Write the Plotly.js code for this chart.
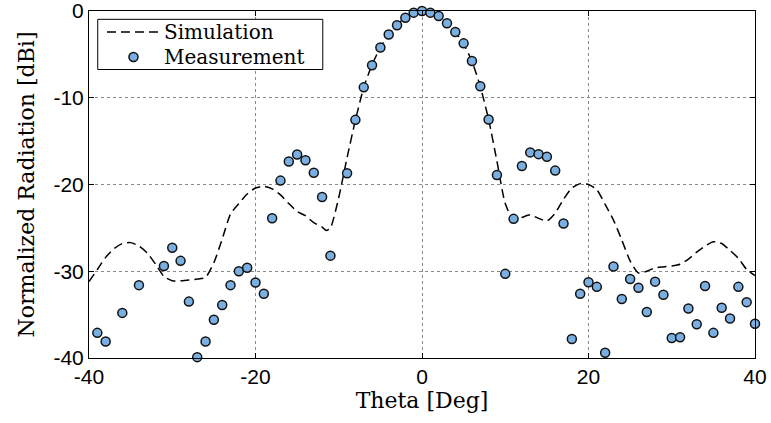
<!DOCTYPE html>
<html>
<head>
<meta charset="utf-8">
<script src="https://cdn.plot.ly/plotly-3.0.1.min.js"></script>
<style>html,body{margin:0;padding:0;background:#fff;}#chart{width:771px;height:423px;}</style>
</head>
<body>
<div id="chart"></div>
<script>
// Simulation (dashed line)
const simTheta = [-40,-39,-38,-37,-36,-35,-34,-33,-32,-31,-30,-29,-28,-27,-26,-25,-24,-23,-22,-21,-20,-19,-18,-17,-16,-15,-14,-13,-12,-11.5,-11,-10,-9,-8,-7,-6,-5,-4,-3,-2,-1,0,1,2,3,4,5,6,7,8,9,10,11,12,13,14,15,16,17,18,19,20,21,22,23,24,25,26,27,28,29,30,31,32,33,34,35,36,37,38,39,40];
const simDb = [-31.2,-29.8,-28.4,-27.4,-26.8,-26.7,-27.1,-27.9,-29.2,-30.6,-31.1,-31.1,-31.0,-30.9,-30.7,-29.0,-26.3,-23.4,-22.2,-21.1,-20.4,-20.2,-20.5,-21.2,-22.2,-23.1,-23.6,-24.4,-24.9,-25.3,-25.0,-21.5,-16.9,-12.6,-8.8,-6.2,-4.2,-2.7,-1.6,-0.75,-0.2,0,-0.2,-0.6,-1.4,-2.4,-3.8,-5.8,-8.7,-12.5,-17.3,-22.2,-24.1,-23.8,-23.5,-23.9,-24.2,-23.3,-21.7,-20.4,-19.9,-20.0,-20.6,-22.3,-24.1,-26.4,-28.8,-30.2,-30.0,-29.6,-29.5,-29.4,-29.2,-28.6,-27.8,-27.1,-26.6,-26.8,-27.6,-28.5,-29.8,-30.5];

// Measurement (circles)
const measTheta = [-39,-38,-36,-34,-31,-30,-29,-28,-27,-26,-25,-24,-23,-22,-21,-20,-19,-18,-17,-16,-15,-14,-13,-12,-11,-9,-8,-7,-6,-5,-4,-3,-2,-1,0,1,2,3,4,5,6,7,8,9,10,11,12,13,14,15,16,17,18,19,20,21,22,23,24,25,26,27,28,29,30,31,32,33,34,35,36,37,38,39,40];
const measDb = [-37.1,-38.1,-34.8,-31.6,-29.4,-27.3,-28.8,-33.5,-39.9,-38.1,-35.6,-33.9,-31.6,-30.0,-29.6,-31.3,-32.6,-23.9,-19.55,-17.35,-16.55,-17.2,-18.65,-21.45,-28.2,-18.7,-12.55,-8.8,-6.26,-4.2,-2.7,-1.65,-0.77,-0.19,0,-0.19,-0.58,-1.42,-2.42,-3.73,-5.76,-8.68,-12.5,-18.9,-30.3,-23.96,-17.86,-16.3,-16.5,-16.8,-18.4,-24.5,-37.8,-32.6,-31.26,-31.8,-39.4,-29.45,-33.2,-30.9,-31.9,-34.7,-31.2,-32.7,-37.7,-37.6,-34.3,-36.1,-31.7,-37.1,-34.2,-35.45,-31.8,-33.56,-36.06];

const xTicks = [-40,-20,0,20,40];
const xTickText = ['-40','-20','0','20','40'];
const yTicks = [-40,-30,-20,-10,0];
const yTickText = ['-40','-30','-20','-10','0'];
const seriesNames = ['Simulation','Measurement'];

const serif = 'DejaVu Serif, serif';
const sans = 'Liberation Sans, Arial, sans-serif';
const markerFill = '#7aafe2';

const traces = [
  {x: simTheta, y: simDb, type: 'scatter', mode: 'lines', name: seriesNames[0],
   line: {color: '#000', width: 1.5, dash: '9px,5px', shape: 'spline', smoothing: 0.6}},
  {x: measTheta, y: measDb, type: 'scatter', mode: 'markers', name: seriesNames[1], cliponaxis: false,
   marker: {symbol: 'circle', size: 9, color: markerFill, line: {color: '#111', width: 1.5}}}
];

const axisCommon = {
  showline: true, linecolor: '#000', linewidth: 1, mirror: 'ticks',
  ticks: 'inside', ticklen: 5, tickcolor: '#000', tickwidth: 1,
  showgrid: true, gridcolor: '#8a8a8a', griddash: 'dot', gridwidth: 1,
  zeroline: false, ticklabeloverflow: 'allow',
  tickfont: {family: sans, size: 21, color: '#000'}
};

// legend drawn as a box in paper coordinates
const lg = {x0: 0.0131, x1: 0.351, y0: 0.8314, y1: 0.976, row1: 0.9395, row2: 0.8674,
            sx0: 0.027, sx1: 0.1066, tx: 0.1116};
const symCx = (lg.sx0 + lg.sx1) / 2;

const layout = {
  width: 771, height: 423,
  margin: {l: 89, r: 16, t: 11, b: 65},
  paper_bgcolor: '#fff', plot_bgcolor: '#fff',
  showlegend: false,
  xaxis: Object.assign({}, axisCommon, {range: [-40, 40], tickvals: xTicks, ticktext: xTickText,
    title: {text: 'Theta [Deg]', font: {family: serif, size: 22, color: '#000'}, standoff: 5}}),
  yaxis: Object.assign({}, axisCommon, {range: [-40, 0], tickvals: yTicks, ticktext: yTickText,
    title: {text: 'Normalized Radiation [dBi]', font: {family: serif, size: 22, color: '#000'}, standoff: 12}}),
  shapes: [
    {type: 'rect', xref: 'paper', yref: 'paper', x0: lg.x0, x1: lg.x1, y0: lg.y0, y1: lg.y1,
     fillcolor: '#fff', line: {color: '#000', width: 1}, layer: 'above'},
    {type: 'line', xref: 'paper', yref: 'paper', x0: lg.sx0, x1: lg.sx1, y0: lg.row1, y1: lg.row1,
     line: {color: '#000', width: 1.5, dash: '9px,5px'}, layer: 'above'},
    {type: 'circle', xref: 'paper', yref: 'paper', x0: symCx - 0.0068, x1: symCx + 0.0068,
     y0: lg.row2 - 0.013, y1: lg.row2 + 0.013, fillcolor: markerFill,
     line: {color: '#111', width: 1.5}, layer: 'above'}
  ],
  annotations: [
    {xref: 'paper', yref: 'paper', x: lg.tx, y: lg.row1, xanchor: 'left', yanchor: 'middle',
     text: seriesNames[0], showarrow: false, borderpad: 0,
     font: {family: serif, size: 20, color: '#000'}},
    {xref: 'paper', yref: 'paper', x: lg.tx, y: lg.row2, xanchor: 'left', yanchor: 'middle',
     text: seriesNames[1], showarrow: false, borderpad: 0,
     font: {family: serif, size: 20, color: '#000'}}
  ]
};

Plotly.newPlot('chart', traces, layout, {displayModeBar: false, staticPlot: true});
</script>
</body>
</html>
